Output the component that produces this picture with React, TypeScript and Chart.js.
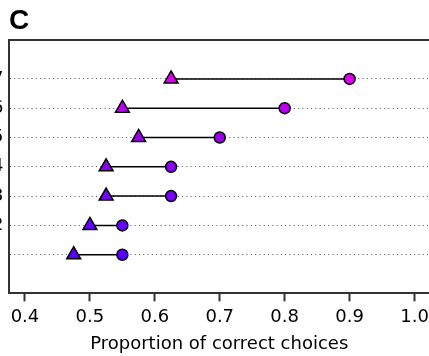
import React, { useEffect, useRef } from 'react';
import { Chart, registerables } from 'chart.js';

Chart.register(...registerables);

// ---- data ----
const rows = [1, 2, 3, 4, 5, 6, 7];
const rowLabels = ['', '2', '3', '4', '5', '6', '7'];
const triangleValues = [0.475, 0.5, 0.525, 0.525, 0.575, 0.55, 0.625];
const circleValues = [0.55, 0.55, 0.625, 0.625, 0.7, 0.8, 0.9];
const rowColors = ['#5A00FF', '#6600FF', '#7700F8', '#8800F2', '#9A00EE', '#BB00EE', '#DD00EE'];
const xTicks = [0.4, 0.5, 0.6, 0.7, 0.8, 0.9, 1.0];
const xTickLabels = ['0.4', '0.5', '0.6', '0.7', '0.8', '0.9', '1.0'];
const xTitle = 'Proportion of correct choices';
const panelLabel = 'C';

const FONT = '"DejaVu Sans", "Liberation Sans", Arial, sans-serif';
const BOLD_FONT = '"Liberation Sans", Arial, Helvetica, sans-serif';
const OFF = 31;
const CW = 470;
const CH = 360;

const topEdge = {
  id: 'topEdge',
  afterDraw(chart: any) {
    const { ctx, chartArea } = chart;
    ctx.save();
    ctx.strokeStyle = '#333';
    ctx.lineWidth = 2;
    ctx.beginPath();
    ctx.moveTo(chartArea.left - 1, Math.round(chartArea.top));
    ctx.lineTo(chartArea.right + 1, Math.round(chartArea.top));
    ctx.stroke();
    ctx.restore();
  },
};

export default function App() {
  const ref = useRef<HTMLCanvasElement>(null);

  useEffect(() => {
    if (!ref.current) return;
    const datasets = rows.map((r, i) => ({
      data: [
        { x: triangleValues[i], y: r },
        { x: circleValues[i], y: r },
      ],
      showLine: true,
      borderColor: '#000',
      borderWidth: 1.5,
      pointStyle: ['triangle', 'circle'],
      pointRadius: [8, 5.5],
      pointBackgroundColor: rowColors[i],
      pointBorderColor: '#000',
      pointBorderWidth: 1.5,
      fill: false,
    }));

    const chart = new Chart(ref.current, {
      type: 'scatter',
      data: { datasets } as any,
      plugins: [topEdge],
      options: {
        responsive: false,
        animation: false,
        devicePixelRatio: 1,
        layout: { padding: { left: 0, right: 9, top: 0, bottom: 0 } },
        plugins: {
          legend: { display: false },
          tooltip: { enabled: false },
          title: {
            display: true,
            text: panelLabel,
            align: 'start',
            fullSize: false,
            color: '#000',
            font: { family: BOLD_FONT, size: 28, weight: 'bold' },
            padding: { top: 4.2, bottom: 2.4 },
          },
        },
        scales: {
          x: {
            type: 'linear',
            min: 0.4 - 16 / 650,
            max: 0.4 - 16 / 650 + 421 / 650,
            afterBuildTicks: (s: any) => {
              s.ticks = xTicks.map((v) => ({ value: v }));
            },
            afterFit: (s: any) => {
              s.height = 66.6;
            },
            ticks: {
              autoSkip: false,
              maxRotation: 0,
              padding: 5,
              color: '#000',
              font: { family: FONT, size: 18 },
              callback: (v: any) => xTickLabels[xTicks.findIndex((t) => Math.abs(t - v) < 1e-9)] ?? '',
            },
            grid: {
              display: true,
              drawOnChartArea: false,
              drawTicks: true,
              tickLength: 8,
              tickColor: '#333',
              tickWidth: 2,
            },
            border: { display: true, color: '#333', width: 2 },
            title: {
              display: true,
              text: xTitle,
              color: '#000',
              font: { family: FONT, size: 18 },
              padding: { top: 0, bottom: 5 },
            },
          },
          y: {
            type: 'linear',
            min: -0.32,
            max: 8.32,
            afterBuildTicks: (s: any) => {
              s.ticks = rows.map((v) => ({ value: v }));
            },
            afterFit: (s: any) => {
              s.width = 40;
            },
            ticks: {
              autoSkip: false,
              padding: 5.5,
              color: '#000',
              font: { family: FONT, size: 18 },
              callback: (v: any) => rowLabels[rows.indexOf(v)] ?? '',
            },
            grid: { color: '#555', lineWidth: 1, drawTicks: false },
            border: { display: true, color: '#333', width: 2, dash: [1, 3.3] },
          },
        },
      } as any,
    });
    return () => chart.destroy();
  }, []);

  return (
    <div
      style={{
        position: 'fixed',
        left: 0,
        top: 0,
        width: 429,
        height: 356,
        overflow: 'hidden',
        background: '#fff',
      }}
    >
      <canvas
        ref={ref}
        width={CW}
        height={CH}
        style={{ position: 'absolute', left: -OFF, top: 0, display: 'block' }}
      />
    </div>
  );
}
